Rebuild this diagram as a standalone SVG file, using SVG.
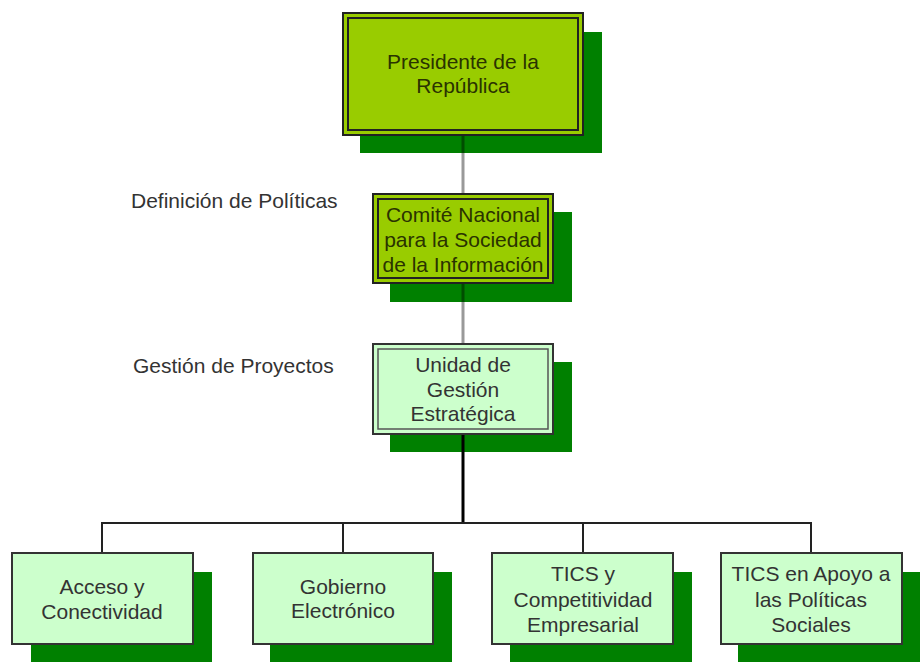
<svg xmlns="http://www.w3.org/2000/svg" width="921" height="662" viewBox="0 0 921 662">
<style>
text{font-family:"Liberation Sans",Arial,sans-serif;font-size:21px;text-anchor:middle;dominant-baseline:central}
.shadow{fill:#008000}
.olive{fill:#99cc00;stroke:#222;stroke-width:2}
.oliveIn{fill:none;stroke:#222;stroke-width:2}
.mint{fill:#ccffcc;stroke:#333;stroke-width:2}
.mintIn{fill:none;stroke:#555;stroke-width:1.5}
.t1{fill:#2a3300}
.t2{fill:#333}
.lbl{text-anchor:start;fill:#333}
.conn{stroke:#000;stroke-opacity:0.4;stroke-width:3;fill:none}
.connB{stroke:#000;stroke-width:3;fill:none}
.connH{stroke:#222;stroke-width:2;fill:none}
</style>
<rect width="921" height="662" fill="#fff"/>
<g id="shadows">
<rect class="shadow" x="360" y="32" width="242" height="121"/>
<rect class="shadow" x="390" y="212" width="182" height="90"/>
<rect class="shadow" x="390" y="362" width="182" height="90"/>
<rect class="shadow" x="31" y="572" width="181" height="95"/>
<rect class="shadow" x="270" y="572" width="182" height="95"/>
<rect class="shadow" x="510" y="572" width="182" height="95"/>
<rect class="shadow" x="738" y="572" width="182" height="95"/>
</g>
<g id="connectors">
<line class="conn" x1="463" y1="135" x2="463" y2="194"/>
<line class="conn" x1="463" y1="283" x2="463" y2="344"/>
<line class="connB" x1="463" y1="434" x2="463" y2="523"/>
<path class="connH" d="M102 553V523H811V553M343 523V553M583 523V553"/>
</g>
<g id="n-presidente">
<rect class="olive" x="343" y="13" width="240" height="122"/>
<rect class="oliveIn" x="348" y="18" width="230" height="112"/>
<text class="t1" x="463" y="61">Presidente de la</text>
<text class="t1" x="463" y="85">República</text>
</g>
<g id="n-comite">
<rect class="olive" x="373" y="194" width="180" height="89"/>
<rect class="oliveIn" x="378" y="199" width="170" height="79"/>
<text class="t1" x="463" y="214">Comité Nacional</text>
<text class="t1" x="463" y="239">para la Sociedad</text>
<text class="t1" x="463" y="264">de la Información</text>
</g>
<g id="n-unidad">
<rect class="mint" x="373" y="344" width="180" height="90"/>
<rect class="mintIn" x="378" y="349" width="170" height="80"/>
<text class="t2" x="463" y="364">Unidad de</text>
<text class="t2" x="463" y="389">Gestión</text>
<text class="t2" x="463" y="413">Estratégica</text>
</g>
<g id="n-acceso">
<rect class="mint" x="12" y="553" width="181" height="91"/>
<text class="t2" x="102" y="586">Acceso y</text>
<text class="t2" x="102" y="611">Conectividad</text>
</g>
<g id="n-gobierno">
<rect class="mint" x="253" y="553" width="180" height="91"/>
<text class="t2" x="343" y="586">Gobierno</text>
<text class="t2" x="343" y="610">Electrónico</text>
</g>
<g id="n-tics-comp">
<rect class="mint" x="492" y="553" width="181" height="91"/>
<text class="t2" x="583" y="573">TICS y</text>
<text class="t2" x="583" y="599">Competitividad</text>
<text class="t2" x="583" y="624">Empresarial</text>
</g>
<g id="n-tics-social">
<rect class="mint" x="721" y="553" width="181" height="91"/>
<text class="t2" x="811" y="573">TICS en Apoyo a</text>
<text class="t2" x="811" y="599">las Políticas</text>
<text class="t2" x="811" y="624">Sociales</text>
</g>
<g id="labels">
<text class="lbl" x="131" y="200">Definición de Políticas</text>
<text class="lbl" x="133" y="365">Gestión de Proyectos</text>
</g>
</svg>
